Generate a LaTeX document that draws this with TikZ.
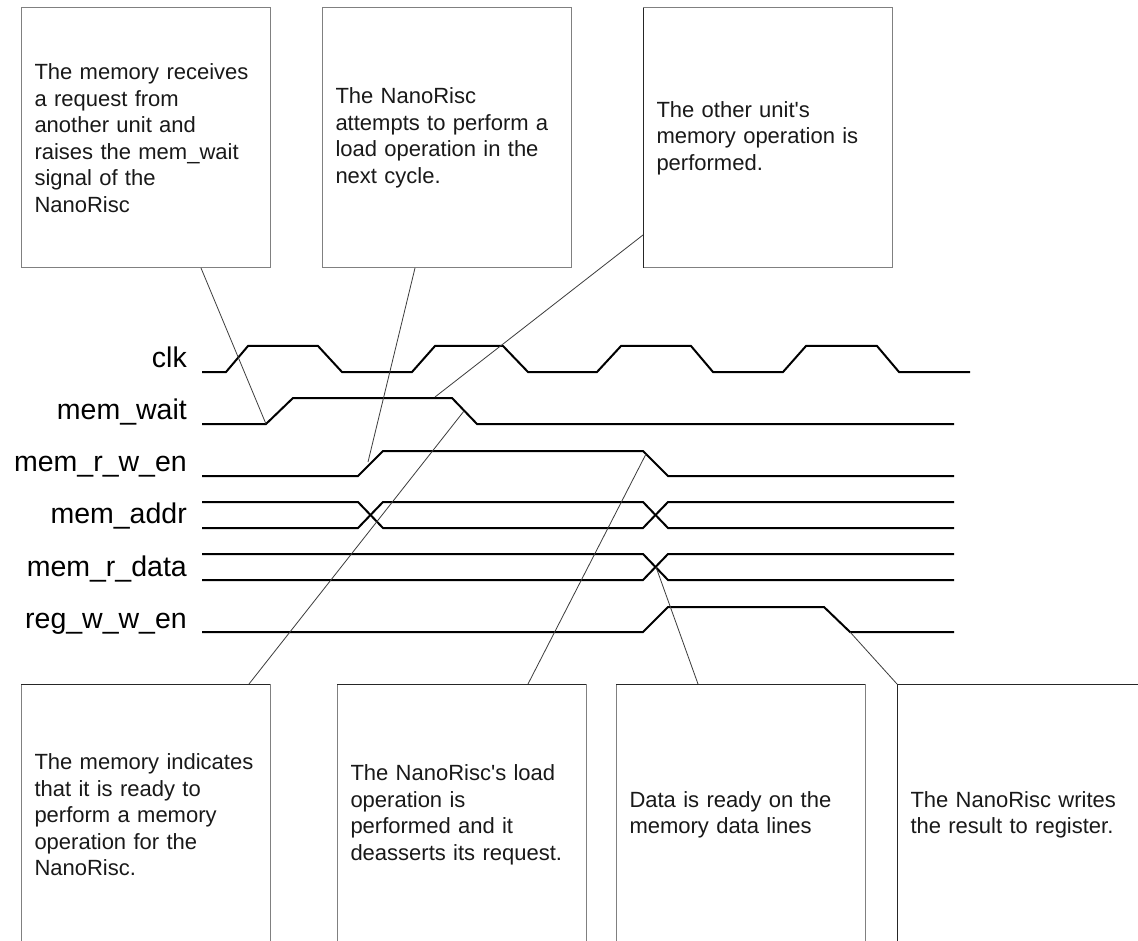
\documentclass[tikz,border=0pt]{standalone}
\usepackage{fontspec}
\setmainfont{Liberation Sans}[Ligatures=TeXOff]
\usetikzlibrary{calc}
\definecolor{boxgray}{RGB}{128,128,128}
\definecolor{leadgray}{RGB}{60,60,60}
\begin{document}
\begin{tikzpicture}[x=1pt,y=-1pt,
  note/.style={draw=boxgray, line width=1pt, rectangle, outer sep=0pt,
    minimum height=260pt, text width=222pt, inner xsep=13.5pt, inner ysep=0pt,
    align=left, font=\fontsize{22}{26.5}\selectfont, text=black!90,
    anchor=north west},
  edge/.style={draw=black!85, line width=1pt},
  sig/.style={font=\fontsize{28.5}{34}\selectfont, anchor=base east, inner sep=0pt},
  wave/.style={line width=2pt, line join=miter},
  lead/.style={line width=0.8pt, draw=leadgray}]
\useasboundingbox (0,0) rectangle (1138,941);
\clip (0,0) rectangle (1138,941);
\fill[white] (0,0) rectangle (1138,941);

% annotation boxes, top row
\node[note] (n1) at (21,8) {The memory receives\\a request from\\another unit and\\raises the mem\_wait\\signal of the\\NanoRisc};
\node[note] (n2) at (322,8) {The NanoRisc\\attempts to perform a\\load operation in the\\next cycle.};
\node[note] (n3) at (643,8) {The other unit's\\memory operation is\\performed.};
\draw[edge] (n3.north west) -- (n3.south west);

% annotation boxes, bottom row
\node[note, minimum height=262pt] (n4) at (21,684) {The memory indicates\\that it is ready to\\perform a memory\\operation for the\\NanoRisc.};
\node[note, minimum height=262pt] (n5) at (337,684) {The NanoRisc's load\\operation is\\performed and it\\deasserts its request.};
\node[note, minimum height=262pt] (n6) at (616,684) {Data is ready on the\\memory data lines};
\node[note, minimum height=262pt] (n7) at (897,684) {The NanoRisc writes\\the result to register.};
\draw[edge] (n4.north west) -- (n4.north east);
\draw[edge] (n5.north west) -- (n5.north east);
\draw[edge] (n6.north west) -- (n6.north east);
\draw[edge] (n7.south west) -- (n7.north west) -- (n7.north east);

% signal names
\node[sig] (lclk)  at (187,367) {clk};
\node[sig] (lwait) at (187,419) {mem\_wait};
\node[sig] (lrw)   at (187,471) {mem\_r\_w\_en};
\node[sig] (laddr) at (187,523) {mem\_addr};
\node[sig] (ldata) at (187,576) {mem\_r\_data};
\node[sig] (lreg)  at (187,628) {reg\_w\_w\_en};

% waveforms
\draw[wave] (202,372) -- (226,372) -- (248,346) -- (318,346) -- (342,372) -- (412,372)
  -- (435,346) -- (503,346) -- (528,372) -- (597,372) -- (621,346) -- (691,346)
  -- (713,372) -- (783,372) -- (806,346) -- (877,346) -- (899,372) -- (970,372);
\draw[wave] (202,424) -- (266,424) -- (293,398) -- (452,398) -- (477,424) -- (954,424);
\draw[wave] (202,476) -- (358,476) -- (383,451) -- (643,451) -- (668,476) -- (954,476);
\draw[wave] (202,502) -- (358,502) -- (383,528) -- (643,528) -- (668,502) -- (954,502);
\draw[wave] (202,528) -- (358,528) -- (383,502) -- (643,502) -- (668,528) -- (954,528);
\draw[wave] (202,554) -- (643,554) -- (668,580) -- (954,580);
\draw[wave] (202,580) -- (643,580) -- (668,554) -- (954,554);
\draw[wave] (202,632) -- (643,632) -- (668,607) -- (824,607) -- (850,632) -- (954,632);

% events on the waveforms
\coordinate (wrise)   at (266,424);
\coordinate (rwrise)  at (368,462);
\coordinate (whigh)   at (435,397);
\coordinate (wfall)   at (464,411);
\coordinate (rwfall)  at (646,454);
\coordinate (dcross)  at (656,567);
\coordinate (regfall) at (850,632);

% leader lines from the notes to the events
\draw[lead] ($(n1.south west)+(180,0)$) -- (wrise);
\draw[lead] ($(n2.south west)+(93,0)$) -- (rwrise);
\draw[lead] ($(n3.north west)+(0,227)$) -- (whigh);
\draw[lead] ($(n4.north west)+(228,0)$) -- (wfall);
\draw[lead] ($(n5.north west)+(191,0)$) -- (rwfall);
\draw[lead] ($(n6.north west)+(82,0)$) -- (dcross);
\draw[lead] (n7.north west) -- (regfall);
\end{tikzpicture}
\end{document}
